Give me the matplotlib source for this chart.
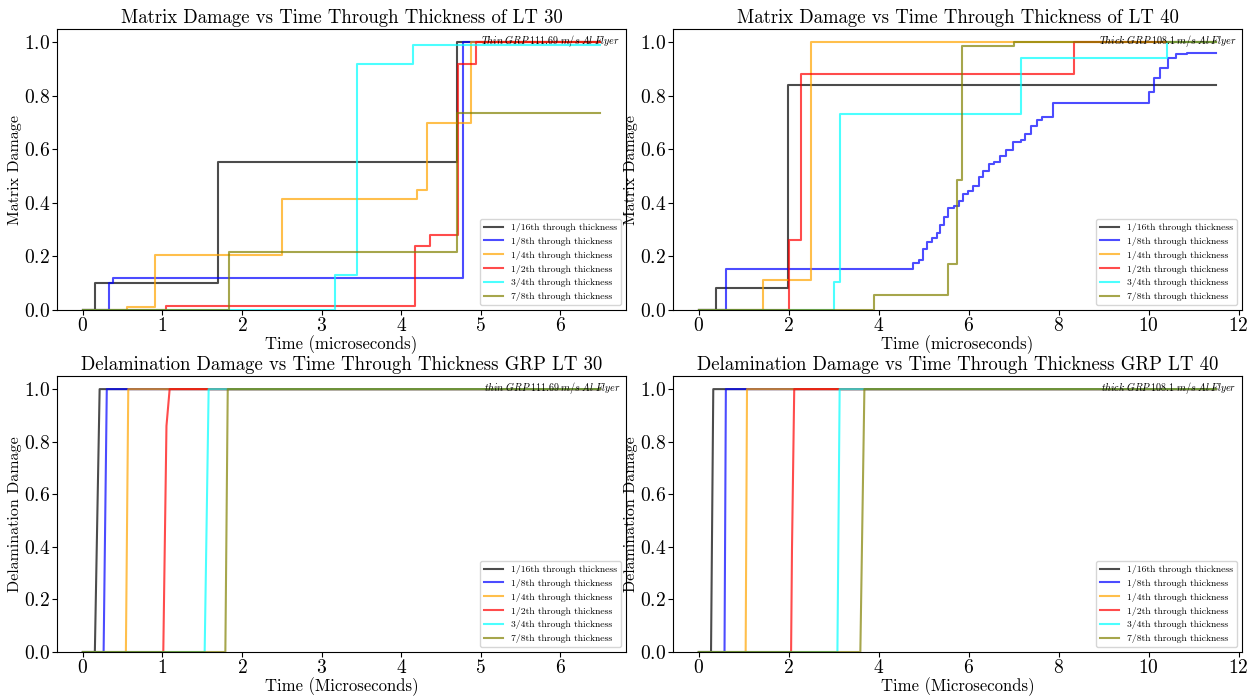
import matplotlib
matplotlib.use("Agg")
import matplotlib.pyplot as plt

plt.rcParams['font.family'] = 'cmr10'
plt.rcParams['mathtext.fontset'] = 'cm'
plt.rcParams['axes.formatter.use_mathtext'] = True

labels = ['1/16th through thickness', '1/8th through thickness', '1/4th through thickness',
          '1/2th through thickness', '3/4th through thickness', '7/8th through thickness']
colors = ['black', 'blue', 'orange', 'red', 'cyan', 'olive']

# --- Matrix damage LT 30 (steps) ---
m30_t = [
    [0, 0.15, 1.70, 4.70, 6.5],
    [0, 0.33, 0.38, 4.78, 6.5],
    [0, 0.56, 0.90, 2.50, 4.20, 4.33, 4.88, 6.5],
    [0, 1.05, 4.17, 4.36, 4.71, 4.94, 6.5],
    [0, 3.17, 3.45, 4.15, 6.5],
    [0, 1.84, 4.70, 6.5],
]
m30_d = [
    [0, 0.10, 0.553, 1.0, 1.0],
    [0, 0.10, 0.12, 1.0, 1.0],
    [0, 0.01, 0.206, 0.415, 0.45, 0.70, 1.0, 1.0],
    [0, 0.015, 0.24, 0.28, 0.92, 1.0, 1.0],
    [0, 0.13, 0.92, 0.99, 0.99],
    [0, 0.216, 0.735, 0.735],
]

# --- Matrix damage LT 40 (steps) ---
m40_t = [
    [0, 0.39, 1.98, 11.5],
    [0, 0.60, 4.72, 4.76, 4.89, 4.98, 5.08, 5.19, 5.30, 5.36, 5.45, 5.54, 5.67, 5.78, 5.88,
     5.98, 6.09, 6.22, 6.31, 6.44, 6.57, 6.70, 6.82, 6.99, 7.17, 7.25, 7.38, 7.51, 7.64,
     7.87, 9.96, 10.0, 10.13, 10.26, 10.43, 10.6, 10.86, 11.5],
    [0, 1.42, 2.49, 11.5],
    [0, 2.0, 2.27, 8.33, 11.5],
    [0, 3.0, 3.13, 7.17, 10.41, 11.5],
    [0, 3.89, 5.54, 5.73, 5.86, 7.0, 11.5],
]
m40_d = [
    [0, 0.084, 0.839, 0.839],
    [0, 0.155, 0.155, 0.176, 0.185, 0.227, 0.253, 0.268, 0.289, 0.317, 0.349, 0.381, 0.387,
     0.406, 0.435, 0.444, 0.464, 0.496, 0.519, 0.547, 0.553, 0.575, 0.598, 0.626, 0.636,
     0.659, 0.687, 0.710, 0.723, 0.773, 0.773, 0.815, 0.866, 0.904, 0.942, 0.958, 0.962, 0.962],
    [0, 0.112, 1.0, 1.0],
    [0, 0.263, 0.882, 1.0, 1.0],
    [0, 0.103, 0.732, 0.94, 1.0, 1.0],
    [0, 0.057, 0.172, 0.487, 0.987, 1.0, 1.0],
]

# --- Delamination damage (ramps) ---
d30_t = [
    [0, 0.15, 0.21, 6.5],
    [0, 0.26, 0.30, 6.5],
    [0, 0.54, 0.57, 6.5],
    [0, 1.01, 1.05, 1.09, 6.5],
    [0, 1.53, 1.58, 6.5],
    [0, 1.79, 1.82, 6.5],
]
d30_d = [
    [0, 0, 1, 1],
    [0, 0, 1, 1],
    [0, 0, 1, 1],
    [0, 0, 0.86, 1, 1],
    [0, 0, 1, 1],
    [0, 0, 1, 1],
]
d40_t = [
    [0, 0.27, 0.32, 11.5],
    [0, 0.57, 0.60, 11.5],
    [0, 1.04, 1.07, 11.5],
    [0, 2.05, 2.07, 2.12, 11.5],
    [0, 3.08, 3.13, 11.5],
    [0, 3.59, 3.68, 11.5],
]
d40_d = [
    [0, 0, 1, 1],
    [0, 0, 1, 1],
    [0, 0, 1, 1],
    [0, 0, 0.39, 1, 1],
    [0, 0, 1, 1],
    [0, 0, 1, 1],
]

fig = plt.figure(figsize=(12.54, 6.96), dpi=100)
ax1 = fig.add_axes([0.0455, 0.5546, 0.4537, 0.4037])
ax2 = fig.add_axes([0.5367, 0.5546, 0.4537, 0.4037])
ax3 = fig.add_axes([0.0455, 0.0632, 0.4537, 0.3966])
ax4 = fig.add_axes([0.5367, 0.0632, 0.4537, 0.3966])

panels = [
    (ax1, m30_t, m30_d, 'steps-post', 'Matrix Damage vs Time Through Thickness of LT 30',
     'Time (microseconds)', 'Matrix Damage', r'$\it{Thin\;GRP\;111.69\;m/s\;Al\;Flyer}$'),
    (ax2, m40_t, m40_d, 'steps-post', 'Matrix Damage vs Time Through Thickness of LT 40',
     'Time (microseconds)', 'Matrix Damage', r'$\it{Thick\;GRP\;108.1\;m/s\;Al\;Flyer}$'),
    (ax3, d30_t, d30_d, 'default', 'Delamination Damage vs Time Through Thickness GRP LT 30',
     'Time (Microseconds)', 'Delamination Damage', r'$\it{thin\;GRP\;111.69\;m/s\;Al\;Flyer}$'),
    (ax4, d40_t, d40_d, 'default', 'Delamination Damage vs Time Through Thickness GRP LT 40',
     'Time (Microseconds)', 'Delamination Damage', r'$\it{thick\;GRP\;108.1\;m/s\;Al\;Flyer}$'),
]

for ax, ts, ds, style, title, xl, yl, note in panels:
    for t, d, lab, c in zip(ts, ds, labels, colors):
        ax.plot(t, d, drawstyle=style, color=c, alpha=0.7, lw=1.5, label=lab)
    ax.set_ylim(0, 1.05)
    ax.set_title(title, fontsize=13.5, pad=4)
    ax.set_xlabel(xl, fontsize=12, labelpad=0)
    ax.set_ylabel(yl, fontsize=11.5, labelpad=1)
    ax.tick_params(labelsize=14, pad=1.5)
    ax.legend(loc='lower right', fontsize=7)
    ax.text(0.99, 0.985, note, transform=ax.transAxes, ha='right', va='top', fontsize=7.3)

fig.savefig('out.png', dpi=100)
